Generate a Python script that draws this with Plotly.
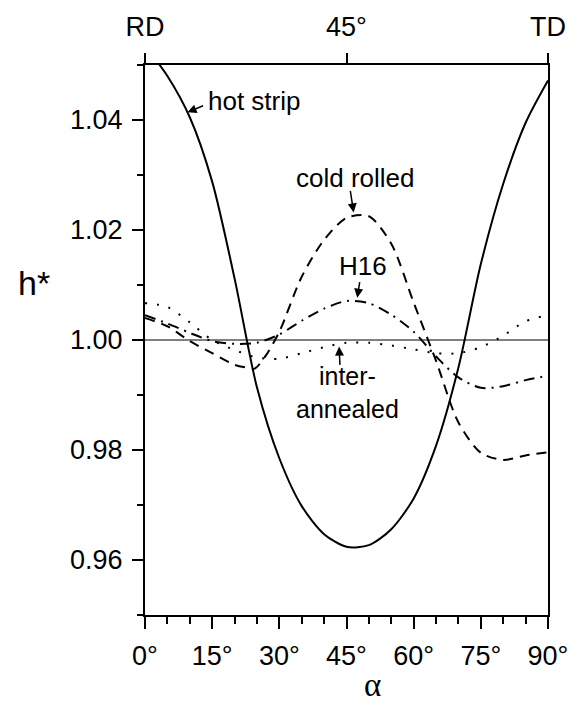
import plotly.graph_objects as go

# ---- data ----
alpha = [0, 5, 10, 15, 20, 25, 30, 35, 40, 45, 50, 55, 60, 65, 70, 75, 80, 85, 90]

hot_strip = [1.0535, 1.048, 1.0405, 1.0288, 1.0112, 0.9914, 0.9785, 0.9698, 0.9647, 0.9624,
             0.9627, 0.9656, 0.9712, 0.9808, 0.9950, 1.0138, 1.0284, 1.0395, 1.0472]

cr_alpha = [0, 5, 10, 15, 20, 22.5, 24.5, 27, 30, 35, 40, 45, 50, 55, 60, 65, 70, 75, 80, 85, 90]
cold_rolled = [1.0040, 1.0025, 0.9998, 0.9976, 0.9955, 0.9950, 0.9948, 0.9972, 1.0015, 1.0115,
               1.0182, 1.0222, 1.0225, 1.0175, 1.0068, 0.9962, 0.9850, 0.9795, 0.9782, 0.9790, 0.9796]

h16 = [1.0045, 1.0030, 1.0013, 0.9998, 0.9993, 0.9995, 1.0010, 1.0035, 1.0057, 1.0071,
       1.0067, 1.0046, 1.0015, 0.9970, 0.9932, 0.9913, 0.9916, 0.9927, 0.9935]

inter_annealed = [1.0067, 1.0060, 1.0032, 1.0000, 0.9982, 0.9968, 0.9966, 0.9976, 0.9987, 0.9995,
                  0.9995, 0.9990, 0.9983, 0.9976, 0.9976, 0.9987, 1.0008, 1.0034, 1.0045]

x_ticks = [0, 15, 30, 45, 60, 75, 90]
x_ticktext = ["0°", "15°", "30°", "45°", "60°", "75°", "90°"]
x_minor = [5, 10, 20, 25, 35, 40, 50, 55, 65, 70, 80, 85]
top_ticks = [0, 45, 90]
top_ticktext = ["RD", "45°", "TD"]
y_ticks = [0.96, 0.98, 1.00, 1.02, 1.04]
y_ticktext = ["0.96", "0.98", "1.00", "1.02", "1.04"]
y_minor = [0.95, 0.97, 0.99, 1.01, 1.03, 1.05]

FONT = "Liberation Sans, Arial, sans-serif"
BLACK = "black"

fig = go.Figure()
common = dict(mode="lines", showlegend=False, hoverinfo="skip")
fig.add_trace(go.Scatter(x=alpha, y=hot_strip, line=dict(color=BLACK, width=2, shape="spline", smoothing=0.8), **common))
fig.add_trace(go.Scatter(x=cr_alpha, y=cold_rolled, line=dict(color=BLACK, width=2, dash="10px,7px", shape="spline", smoothing=0.8), **common))
fig.add_trace(go.Scatter(x=alpha, y=h16, line=dict(color=BLACK, width=2, dash="11px,6px,2px,6px", shape="spline", smoothing=0.8), **common))
fig.add_trace(go.Scatter(x=alpha, y=inter_annealed, line=dict(color=BLACK, width=2, dash="2px,10px", shape="spline", smoothing=0.8), **common))
# empty trace to activate the top axis
fig.add_trace(go.Scatter(x=[], y=[], xaxis="x2", **common))

fig.add_shape(type="line", xref="x", yref="y", x0=0, x1=90, y0=1.0, y1=1.0,
              line=dict(color=BLACK, width=1))

axis_font = dict(family=FONT, size=27, color=BLACK)
fig.update_layout(
    width=580, height=706,
    margin=dict(l=145, r=28, t=60, b=91),
    paper_bgcolor="white", plot_bgcolor="white",
    xaxis=dict(range=[0, 90], tickmode="array", tickvals=x_ticks, ticktext=x_ticktext,
               ticks="outside", ticklen=12, tickwidth=2, tickcolor=BLACK,
               showline=True, linewidth=2, linecolor=BLACK, showgrid=False, zeroline=False,
               tickfont=axis_font, ticklabelstandoff=4,
               minor=dict(tickmode="array", tickvals=x_minor, ticks="outside", ticklen=7,
                          tickwidth=2, tickcolor=BLACK, showgrid=False)),
    xaxis2=dict(range=[0, 90], overlaying="x", side="top", tickmode="array",
                tickvals=top_ticks, ticktext=top_ticktext, ticks="outside", ticklen=10,
                tickwidth=2, tickcolor=BLACK, showline=True, linewidth=2, linecolor=BLACK,
                showgrid=False, zeroline=False, tickfont=axis_font, ticklabelstandoff=6),
    yaxis=dict(range=[0.95, 1.05], tickmode="array", tickvals=y_ticks, ticktext=y_ticktext,
               ticks="outside", ticklen=11, tickwidth=2, tickcolor=BLACK,
               showline=True, linewidth=2, linecolor=BLACK, mirror=True,
               showgrid=False, zeroline=False, tickfont=axis_font, ticklabelstandoff=4,
               minor=dict(tickmode="array", tickvals=y_minor, ticks="outside", ticklen=6,
                          tickwidth=2, tickcolor=BLACK, showgrid=False)),
)

ann_font = dict(family=FONT, size=26, color=BLACK)

def label(text, x, y, size=26):
    fig.add_annotation(x=x, y=y, xref="x", yref="y", text=text, showarrow=False,
                       font=dict(family=FONT, size=size, color=BLACK),
                       xanchor="center", yanchor="middle", align="center")

def arrow(x_tail, y_tail, x_head, y_head):
    fig.add_annotation(x=x_head, y=y_head, ax=x_tail, ay=y_tail, xref="x", yref="y",
                       axref="x", ayref="y", text="", showarrow=True, arrowhead=2,
                       arrowsize=1.2, arrowwidth=1.5, arrowcolor=BLACK, standoff=0, startstandoff=0)

label("hot strip", 24.5, 1.0434)
arrow(13.3, 1.0427, 9.5, 1.0414)
label("cold rolled", 46.9, 1.0294)
arrow(45.8, 1.0274, 46.6, 1.0232)
label("H16", 48.6, 1.0135)
arrow(48.0, 1.0108, 47.4, 1.0077)
label("inter-<br>annealed", 45.2, 0.9904, size=25)
arrow(43.55, 0.9952, 43.35, 0.9988)

# axis titles
fig.add_annotation(x=-0.275, y=0.603, xref="paper", yref="paper", text="h*", showarrow=False,
                   font=dict(family=FONT, size=34, color=BLACK), xanchor="center", yanchor="middle")
fig.add_annotation(x=0.565, y=-0.128, xref="paper", yref="paper", text="α", showarrow=False,
                   font=dict(family="Liberation Serif, Times New Roman, serif", size=33, color=BLACK),
                   xanchor="center", yanchor="middle")

fig.write_html("out.html")
